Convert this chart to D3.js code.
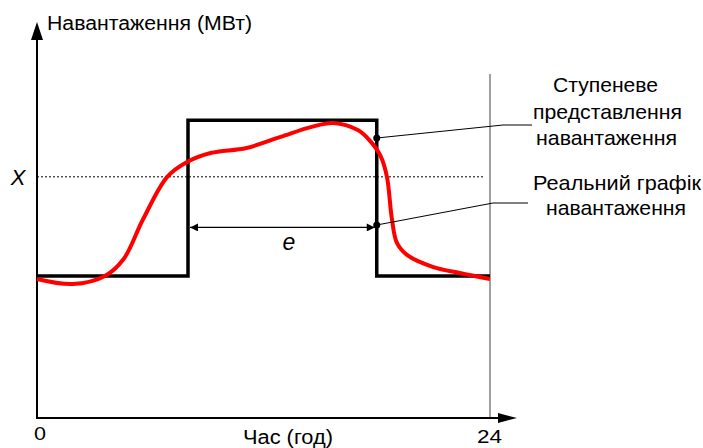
<!DOCTYPE html>
<html><head><meta charset="utf-8">
<script src="https://cdn.jsdelivr.net/npm/d3@7"></script>
<style>body{margin:0;background:#fff}svg{display:block}text{font-family:"Liberation Sans",Arial,sans-serif;fill:#000}</style>
</head><body><svg id="c" width="703" height="448"></svg>
<script>
// Data
const stepHours = [0, 8, 8, 18, 18, 24];
const stepLoad  = [47.7, 47.7, 100, 100, 47.7, 47.7];
const realHours = [0, 1.9, 3.6, 4.6, 5.6, 6.9, 7.95, 9.2, 11.1, 12.9, 14.5, 15.7, 17.0, 17.6, 18.2, 18.54, 18.8, 19.07, 19.6, 21.0, 22.4, 24];
const realLoad  = [46.7, 45.0, 47.7, 53.5, 66.5, 81, 86, 89, 90.7, 94.4, 97.7, 99.1, 96.7, 93.4, 88, 81, 67, 58.8, 54.8, 50.7, 48.7, 46.7];
const xLevel = 81;
const eLevel = 64;
const xTickLabels = ["0", "24"];
const xTickValues = [0, 24];
const yTitle = "Навантаження (МВт)";
const xTitle = "Час (год)";
const legendStep = ["Ступеневе", "представлення", "навантаження"];
const legendReal = ["Реальний графік", "навантаження"];

const svg = d3.select("#c");
const x = d3.scaleLinear().domain([0, 24]).range([37, 490]);
const y = d3.scaleLinear().domain([0, 133]).range([418, 22]);

const defs = svg.append("defs");
defs.append("marker").attr("id","ah").attr("viewBox","0 0 10 10").attr("refX",10).attr("refY",5)
  .attr("markerWidth",10).attr("markerHeight",8).attr("markerUnits","userSpaceOnUse").attr("orient","auto-start-reverse")
  .append("path").attr("d","M0,0L10,5L0,10Z").attr("fill","#000");

// gray vertical line at 24
svg.append("line").attr("x1",x(24)).attr("x2",x(24)).attr("y1",74).attr("y2",y(0))
  .attr("stroke","#808080").attr("stroke-width",1.5);

// axes
svg.append("line").attr("x1",x(0)).attr("x2",x(0)).attr("y1",y(0)+1).attr("y2",38)
  .attr("stroke","#000").attr("stroke-width",2);
svg.append("path").attr("d",`M${x(0)},22L${x(0)-6},40L${x(0)+6},40Z`).attr("fill","#000");
svg.append("line").attr("x1",x(0)-1).attr("x2",500).attr("y1",y(0)).attr("y2",y(0))
  .attr("stroke","#000").attr("stroke-width",2);
svg.append("path").attr("d",`M517,${y(0)}L498,${y(0)-5}L498,${y(0)+5}Z`).attr("fill","#000");

// dotted X level
svg.append("line").attr("x1",x(0)).attr("x2",483).attr("y1",y(xLevel)).attr("y2",y(xLevel))
  .attr("stroke","#000").attr("stroke-width",1).attr("stroke-dasharray","2,2");

// step
const stepData = stepHours.map((h,i)=>[h, stepLoad[i]]);
svg.append("path").datum(stepData)
  .attr("d", d3.line().x(d=>x(d[0])).y(d=>y(d[1])))
  .attr("fill","none").attr("stroke","#000").attr("stroke-width",3.5).attr("stroke-linejoin","miter");

// real curve
const realData = realHours.map((h,i)=>[h, realLoad[i]]);
svg.append("path").datum(realData)
  .attr("d", d3.line().curve(d3.curveCatmullRom.alpha(0.5)).x(d=>x(d[0])).y(d=>y(d[1])))
  .attr("fill","none").attr("stroke","#ff0000").attr("stroke-width",4);

// e arrow
svg.append("line").attr("x1",x(8)+2).attr("x2",x(18)-2).attr("y1",y(eLevel)).attr("y2",y(eLevel))
  .attr("stroke","#000").attr("stroke-width",1.2)
  .attr("marker-start","url(#ah)").attr("marker-end","url(#ah)");
svg.append("text").attr("x",289).attr("y",250).attr("text-anchor","middle")
  .attr("font-size",23).attr("font-style","italic").text("e");
svg.append("text").attr("x",18).attr("y",y(xLevel)+8).attr("text-anchor","middle")
  .attr("font-size",22).attr("font-style","italic").text("X");

// leader lines and dots
const d1 = [x(18), 138], d2 = [x(18), 225];
svg.append("polyline").attr("points",`${d1[0]},${d1[1]} 503,125 532,125`).attr("fill","none").attr("stroke","#000").attr("stroke-width",1);
svg.append("polyline").attr("points",`${d2[0]},${d2[1]} 493,203 528,203`).attr("fill","none").attr("stroke","#000").attr("stroke-width",1);
svg.append("circle").attr("cx",d1[0]).attr("cy",d1[1]).attr("r",3.5).attr("fill","#000");
svg.append("circle").attr("cx",d2[0]).attr("cy",d2[1]).attr("r",3.5).attr("fill","#000");

// legend text
function txt(t, x0, yb, w, fs){
  return svg.append("text").attr("x",x0).attr("y",yb).attr("font-size",fs)
    .attr("textLength",w).attr("lengthAdjust","spacingAndGlyphs").text(t);
}
const stepBoxes = [[553,105],[533,149],[536,141]];
legendStep.forEach((t,i)=>txt(t, stepBoxes[i][0], 92+i*26.5, stepBoxes[i][1], 21));
const realBoxes = [[533,168],[546,140]];
legendReal.forEach((t,i)=>txt(t, realBoxes[i][0], 190+i*25, realBoxes[i][1], 21));

// titles
txt(yTitle, 47, 30, 205, 20);
const tickBoxes = [[34,12,440],[477,25,443]];
xTickValues.forEach((v,i)=>txt(xTickLabels[i], tickBoxes[i][0], tickBoxes[i][2], tickBoxes[i][1], 19));
txt(xTitle, 243, 444, 90, 20);
</script></body></html>
